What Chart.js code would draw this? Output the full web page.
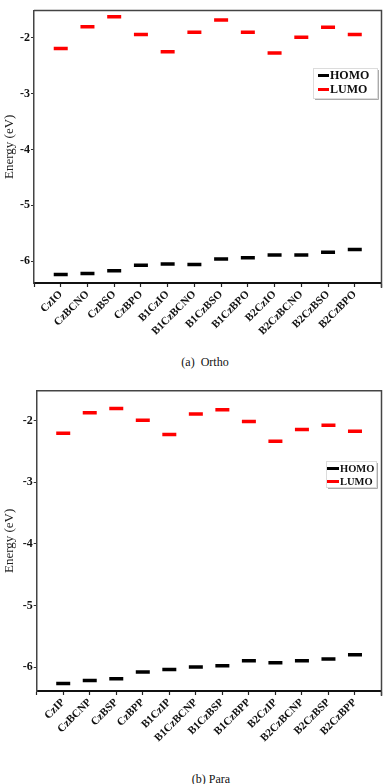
<!DOCTYPE html>
<html><head><meta charset="utf-8">
<script src="https://cdn.jsdelivr.net/npm/chart.js@4"></script>
<style>
html,body{margin:0;padding:0;background:#fff;width:392px;height:784px;overflow:hidden;}
.wrap{position:absolute;left:0;width:392px;}
.cap{position:absolute;font-family:"Liberation Serif",serif;font-size:12px;color:#111;white-space:nowrap;transform:translateX(-50%);line-height:14px;}
</style></head><body>
<div class="wrap" style="top:0;height:350px"><canvas id="c1" width="392" height="350"></canvas></div>
<div class="cap" style="left:205px;top:355px">(a)&nbsp; Ortho</div>
<div class="wrap" style="top:380px;height:380px"><canvas id="c2" width="392" height="380"></canvas></div>
<div class="cap" style="left:211px;top:772px">(b) Para</div>
<script>
const orthoCategories = ['CzIO','CzBCNO','CzBSO','CzBPO','B1CzIO','B1CzBCNO','B1CzBSO','B1CzBPO','B2CzIO','B2CzBCNO','B2CzBSO','B2CzBPO'];
const orthoHOMO = [-6.24,-6.22,-6.17,-6.07,-6.05,-6.06,-5.96,-5.94,-5.89,-5.89,-5.84,-5.79];
const orthoLUMO = [-2.19,-1.80,-1.62,-1.94,-2.25,-1.90,-1.68,-1.90,-2.27,-1.99,-1.81,-1.94];

const paraCategories = ['CzIP','CzBCNP','CzBSP','CzBPP','B1CzIP','B1CzBCNP','B1CzBSP','B1CzBPP','B2CzIP','B2CzBCNP','B2CzBSP','B2CzBPP'];
const paraHOMO = [-6.27,-6.22,-6.19,-6.08,-6.04,-6.00,-5.98,-5.90,-5.93,-5.90,-5.87,-5.80];
const paraLUMO = [-2.20,-1.87,-1.80,-1.99,-2.22,-1.89,-1.82,-2.01,-2.33,-2.14,-2.07,-2.17];

const yTicks = [-6,-5,-4,-3,-2];
const seriesNames = ['HOMO','LUMO'];
const yTitle = 'Energy (eV)';

const SERIF = '"Liberation Serif","Times New Roman",serif';

const framePlugin = {
  id:'frame',
  afterDraw(chart){
    const a = chart.chartArea, ctx = chart.ctx;
    ctx.save();
    ctx.strokeStyle = '#444';
    ctx.lineWidth = 1.5;
    ctx.beginPath();
    ctx.moveTo(a.left, a.top);
    ctx.lineTo(a.right, a.top);
    ctx.lineTo(a.right, a.bottom + 5);
    ctx.stroke();
    ctx.restore();
  }
};

const boxLegend = {
  id:'boxLegend',
  afterDraw(chart, args, o){
    const ctx = chart.ctx;
    ctx.save();
    ctx.fillStyle = '#fff';
    ctx.fillRect(o.x, o.y, o.w, o.h);
    ctx.strokeStyle = '#dcdcdc'; ctx.lineWidth = 1;
    ctx.strokeRect(o.x + 0.5, o.y + 0.5, o.w, o.h);
    ctx.strokeStyle = '#aaa';
    ctx.beginPath();
    ctx.moveTo(o.x + o.w + 1.5, o.y + 2);
    ctx.lineTo(o.x + o.w + 1.5, o.y + o.h + 1.5);
    ctx.lineTo(o.x + 2, o.y + o.h + 1.5);
    ctx.stroke();
    ctx.font = 'bold ' + o.size + 'px ' + SERIF;
    ctx.textBaseline = 'middle';
    ctx.textAlign = 'left';
    chart.data.datasets.forEach((ds, i) => {
      const y = o.y + o.row0 + i * o.rowH;
      ctx.strokeStyle = ds.borderColor; ctx.lineWidth = 3;
      ctx.beginPath(); ctx.moveTo(o.x + o.sx, y); ctx.lineTo(o.x + o.sx + o.sw, y); ctx.stroke();
      ctx.fillStyle = '#111';
      ctx.fillText(ds.label, o.x + o.sx + o.sw + 1, y + 0.5);
    });
    ctx.restore();
  }
};

function makeChart(id, cats, homo, lumo, L){
  const toPts = arr => arr.map((v, i) => ({x: i + 1, y: v}));
  return new Chart(document.getElementById(id), {
    type: 'scatter',
    data: {
      datasets: [
        {label: seriesNames[0], data: toPts(homo), borderColor: '#000', backgroundColor: '#000'},
        {label: seriesNames[1], data: toPts(lumo), borderColor: '#ff0000', backgroundColor: '#ff0000'}
      ]
    },
    options: {
      responsive: false,
      animation: false,
      events: [],
      elements: {point: {pointStyle: 'line', radius: 7, borderWidth: 3.5, hoverRadius: 7}},
      layout: {padding: {top: L.top, right: L.right, left: 0, bottom: 0}},
      plugins: {
        legend: {display: false},
        tooltip: {enabled: false},
        boxLegend: L.legend
      },
      scales: {
        x: {
          type: 'linear', min: 0, max: cats.length + 1,
          afterBuildTicks: s => { s.ticks = Array.from({length: cats.length + 2}, (_, i) => ({value: i})); },
          afterFit: s => { s.height = L.xh; },
          ticks: {
            autoSkip: false, maxRotation: 45, minRotation: 45, padding: 1,
            color: '#111', font: {family: SERIF, size: 11, weight: 'bold'},
            callback: v => cats[v - 1] || ''
          },
          grid: {drawOnChartArea: false, tickLength: 4, color: '#222', tickWidth: 1.2},
          border: {display: true, color: '#111', width: 2}
        },
        y: {
          min: -6.39, max: -1.51,
          afterBuildTicks: s => { s.ticks = yTicks.map(v => ({value: v})); },
          afterFit: s => { s.width = L.yw; },
          ticks: {padding: 1, color: '#111', font: {family: SERIF, size: 12, weight: 'bold'}},
          grid: {drawOnChartArea: false, tickLength: 3, color: '#333', tickWidth: 1},
          border: {display: true, color: '#444', width: 1.5},
          title: {display: true, text: yTitle, color: '#222', padding: {top: 2, bottom: 0}, font: {family: SERIF, size: 13}}
        }
      }
    },
    plugins: [framePlugin, boxLegend]
  });
}

makeChart('c1', orthoCategories, orthoHOMO, orthoLUMO, {
  top: 2, right: 6, yw: 34, xh: 67,
  legend: {x: 313, y: 68, w: 64, h: 30, sx: 5, sw: 11, row0: 7.5, rowH: 14, size: 12}
});
makeChart('c2', paraCategories, paraHOMO, paraLUMO, {
  top: 10.7, right: 3, yw: 36.7, xh: 69,
  legend: {x: 326, y: 81, w: 50, h: 26, sx: 1, sw: 12, row0: 7.5, rowH: 13, size: 10.5}
});
</script>
</body></html>
